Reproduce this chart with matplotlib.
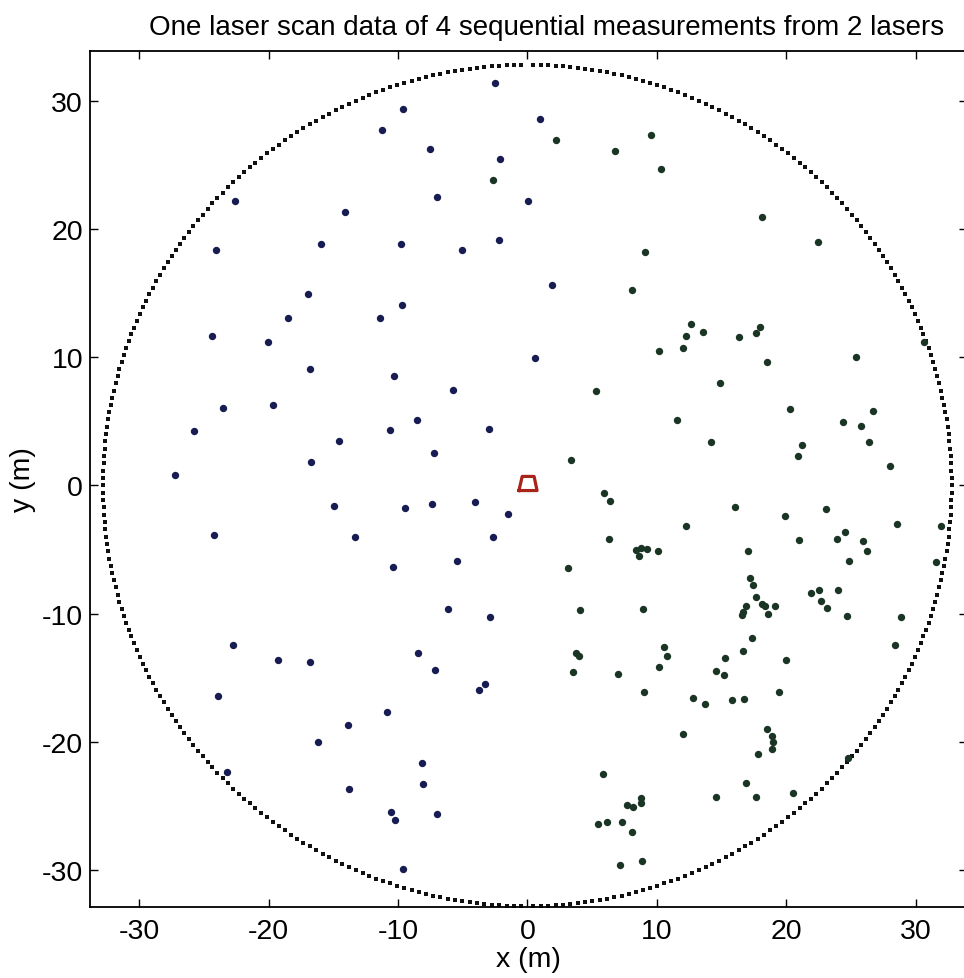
import numpy as np
import matplotlib
matplotlib.use("Agg")
import matplotlib.pyplot as plt

plt.rcParams['font.family'] = ['Liberation Sans', 'DejaVu Sans']
plt.rcParams['axes.unicode_minus'] = False

# laser 1 returns (navy)
laser1_x = [-2.47, -9.61, -11.26, -7.53, -2.12, -7.01, -22.60, 0.05, -14.12, -15.95,
            -9.79, -5.08, -2.19, -24.07, -16.92, -9.71, -18.47, -11.36, -24.37, -20.07,
            -16.77, -10.33, -5.75, -23.55, -19.66, -8.50, -25.73, -10.64, -2.97, -14.58,
            -7.19, -16.72, -27.26, -14.95, -9.48, -7.34, -4.07, -1.47, -24.22, -13.32,
            -2.66, -10.36, -5.46, -6.16, -2.86, -22.77, -19.27, -16.82, -8.45, -7.16,
            -3.30, -3.74, -23.88, -10.85, -13.83, -16.21, -8.15, -23.18, -8.04, -13.76,
            -10.51, -10.23, -6.99, -9.61, 0.95, 1.93, 0.56]
laser1_y = [31.41, 29.35, 27.75, 26.21, 25.49, 22.49, 22.18, 22.16, 21.33, 18.86,
            18.86, 18.39, 19.17, 18.32, 14.91, 14.08, 13.02, 13.04, 11.64, 11.17,
            9.04, 8.57, 7.45, 6.00, 6.26, 5.14, 4.26, 4.31, 4.39, 3.43,
            2.49, 1.79, 0.80, -1.59, -1.75, -1.46, -1.28, -2.26, -3.85, -4.03,
            -4.05, -6.39, -5.92, -9.64, -10.27, -12.42, -13.59, -13.77, -13.09, -14.40,
            -15.49, -15.95, -16.42, -17.67, -18.68, -20.01, -21.65, -22.32, -23.28, -23.69,
            -25.49, -26.06, -25.62, -29.93, 28.60, 15.64, 9.95]

# laser 2 returns (dark green)
laser2_x = [-2.63, 2.24, 6.80, 9.53, 10.36, 18.11, 22.49, 9.09, 8.11, 12.67,
            13.55, 12.29, 16.33, 18.01, 17.64, 12.02, 10.15, 18.55, 30.63, 25.37,
            5.33, 14.92, 20.29, 26.68, 24.39, 25.76, 11.54, 14.22, 21.25, 20.94,
            26.38, 28.02, 3.40, 5.90, 6.36, 16.07, 19.91, 23.11, 28.59, 31.94,
            12.23, 24.52, 6.28, 20.99, 23.93, 25.91, 26.24, 8.42, 8.81, 9.24,
            8.62, 10.09, 17.05, 24.85, 31.55, 3.14, 17.20, 17.47, 21.92, 22.51,
            24.00, 22.67, 23.15, 17.64, 18.16, 18.34, 19.17, 18.62, 16.92, 16.66,
            16.56, 24.70, 28.90, 4.10, 8.91, 17.39, 28.38, 16.66, 19.96, 15.30,
            3.76, 3.99, 3.55, 10.53, 10.79, 10.15, 6.98, 14.55, 15.19, 9.01,
            12.77, 13.76, 15.84, 16.77, 19.44, 12.02, 18.55, 18.88, 18.98, 18.88,
            17.80, 24.81, 5.84, 16.92, 14.55, 17.70, 20.53, 8.76, 8.81, 7.73,
            8.14, 5.46, 6.15, 7.29, 8.08, 7.13, 8.86]
laser2_y = [23.85, 26.91, 26.08, 27.36, 24.65, 20.94, 18.99, 18.24, 15.20, 12.57,
            11.93, 11.66, 11.54, 12.32, 11.87, 10.70, 10.49, 9.59, 11.15, 9.98,
            7.40, 8.00, 5.92, 5.77, 4.96, 4.65, 5.09, 3.35, 3.16, 2.31,
            3.35, 1.53, 2.00, -0.62, -1.20, -1.71, -2.42, -1.82, -3.04, -3.20,
            -3.20, -3.66, -4.21, -4.26, -4.19, -4.32, -5.12, -5.02, -4.91, -4.96,
            -5.49, -5.14, -5.14, -5.90, -5.95, -6.42, -7.20, -7.75, -8.39, -8.14,
            -8.18, -8.99, -9.54, -8.68, -9.25, -9.43, -9.43, -10.05, -9.43, -9.90,
            -10.09, -10.16, -10.24, -9.72, -9.64, -11.93, -12.45, -12.89, -13.64, -13.44,
            -13.09, -13.28, -14.55, -12.63, -13.33, -14.16, -14.73, -14.47, -14.76, -16.09,
            -16.60, -17.05, -16.76, -16.63, -16.13, -19.38, -18.99, -19.54, -20.03, -20.55,
            -20.94, -21.26, -22.53, -23.23, -24.32, -24.27, -23.98, -24.37, -24.79, -24.92,
            -25.10, -26.40, -26.27, -26.27, -27.00, -29.59, -29.26]

# vehicle outline at the origin
vehicle_x = [-0.65, 0.75, 0.52, -0.40, -0.65]
vehicle_y = [-0.40, -0.40, 0.70, 0.70, -0.40]

# maximum range of the scanners: each laser covers one half, ~1 deg steps
max_range = 32.8
angles_right = np.deg2rad(np.linspace(-89.2, 89.2, 179))
angles_left = angles_right + np.pi

fig = plt.figure(figsize=(9.64, 9.79), dpi=100)
ax = fig.add_axes([0.0934, 0.0722, 0.91, 0.875])

for ang in (angles_right, angles_left):
    ax.plot(max_range * np.cos(ang), max_range * np.sin(ang), 's',
            color='#111111', ms=3.0, mew=0)

ax.plot(laser1_x, laser1_y, 'o', color='#171c52', ms=5.3, mew=0)
ax.plot(laser2_x, laser2_y, 'o', color='#1b3525', ms=5.3, mew=0)
ax.plot(vehicle_x, vehicle_y, '-', color='#a82319', lw=2.3)

ax.set_xlim(-33.8, 34.0)
ax.set_ylim(-32.9, 33.9)
ax.set_xticks([-30, -20, -10, 0, 10, 20, 30])
ax.set_yticks([-30, -20, -10, 0, 10, 20, 30])
ax.tick_params(direction='in', length=6, width=1.0, top=True, right=True,
               labelsize=20.5)
ax.tick_params(axis='x', pad=8)
ax.tick_params(axis='y', pad=5)
for s in ax.spines.values():
    s.set_linewidth(1.3)

ax.set_title("One laser scan data of 4 sequential measurements from 2 lasers",
             fontsize=20, pad=12, x=0.52)
ax.set_xlabel("x (m)", fontsize=20.5, labelpad=1)
ax.set_ylabel("y (m)", fontsize=20.5, labelpad=4)

fig.savefig("out.png", dpi=100)
